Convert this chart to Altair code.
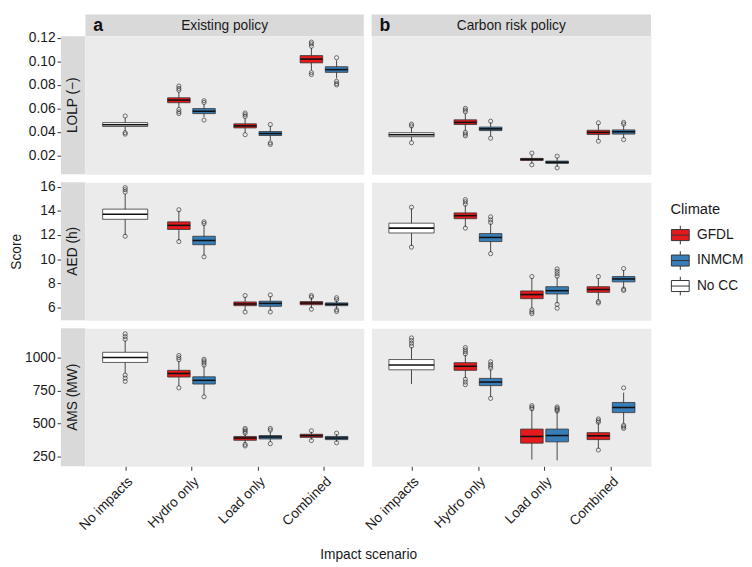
import json
import altair as alt
import pandas as pd

FONT = "Liberation Sans"

scenarios = ["No impacts", "Hydro only", "Load only", "Combined"]
climates = ["GFDL", "INMCM", "No CC"]
climate_colors = ["#e41a1c", "#377eb8", "#ffffff"]
policies = ["Existing policy", "Carbon risk policy"]
policy_tags = ["a", "b"]
metrics = ["LOLP (\u2212)", "AED (h)", "AMS (MW)"]

# box order inside each policy panel
box_scenario = ["No impacts", "Hydro only", "Hydro only", "Load only", "Load only", "Combined", "Combined"]
box_climate = ["No CC", "GFDL", "INMCM", "GFDL", "INMCM", "GFDL", "INMCM"]

# [whisker low, q1, median, q3, whisker high]
lolp_existing = [
    [0.0405, 0.0445, 0.0460, 0.0478, 0.0520],
    [0.0605, 0.0648, 0.0670, 0.0690, 0.0740],
    [0.0525, 0.0555, 0.0575, 0.0598, 0.0635],
    [0.0390, 0.0433, 0.0450, 0.0468, 0.0515],
    [0.0325, 0.0368, 0.0385, 0.0402, 0.0450],
    [0.0925, 0.0988, 0.1020, 0.1050, 0.1115],
    [0.0855, 0.0907, 0.0930, 0.0955, 0.1010],
]
lolp_existing_out = [
    [0.0535, 0.0392, 0.0380],
    [0.0755, 0.0770, 0.0790, 0.0590, 0.0570, 0.0555],
    [0.0650, 0.0665, 0.0500],
    [0.0530, 0.0545, 0.0560, 0.0375],
    [0.0462, 0.0305, 0.0292],
    [0.1130, 0.1150, 0.1165, 0.0905, 0.0888],
    [0.1032, 0.0830, 0.0812, 0.0800],
]
lolp_carbon = [
    [0.0320, 0.0358, 0.0375, 0.0392, 0.0440],
    [0.0410, 0.0462, 0.0480, 0.0502, 0.0555],
    [0.0360, 0.0410, 0.0425, 0.0440, 0.0480],
    [0.0128, 0.0155, 0.0165, 0.0173, 0.0205],
    [0.0100, 0.0130, 0.0140, 0.0150, 0.0180],
    [0.0330, 0.0377, 0.0395, 0.0413, 0.0465],
    [0.0345, 0.0380, 0.0400, 0.0416, 0.0455],
]
lolp_carbon_out = [
    [0.0450, 0.0465, 0.0306],
    [0.0570, 0.0585, 0.0600, 0.0395, 0.0380, 0.0365],
    [0.0490, 0.0345],
    [0.0218, 0.0118],
    [0.0192, 0.0092],
    [0.0476, 0.0320],
    [0.0465, 0.0480, 0.0333],
]
aed_existing = [
    [12.00, 13.30, 13.72, 14.14, 15.40],
    [11.55, 12.46, 12.80, 13.09, 14.00],
    [10.30, 11.20, 11.55, 11.90, 12.85],
    [5.75, 6.16, 6.30, 6.47, 6.90],
    [5.75, 6.11, 6.35, 6.53, 6.95],
    [5.95, 6.24, 6.38, 6.50, 6.80],
    [5.90, 6.16, 6.28, 6.39, 6.60],
]
aed_existing_out = [
    [15.55, 15.75, 15.92, 11.90],
    [14.09, 11.46],
    [12.95, 13.09, 10.20],
    [7.00, 5.64],
    [7.05, 5.64],
    [6.87, 7.00, 5.87],
    [6.66, 6.82, 5.82, 5.68],
]
aed_carbon = [
    [11.10, 12.17, 12.57, 12.98, 14.20],
    [12.65, 13.35, 13.60, 13.83, 14.45],
    [10.60, 11.46, 11.80, 12.12, 12.95],
    [5.95, 6.74, 7.08, 7.38, 8.45],
    [6.35, 7.13, 7.40, 7.73, 8.50],
    [6.60, 7.26, 7.50, 7.73, 8.45],
    [7.60, 8.13, 8.37, 8.57, 9.10],
]
aed_carbon_out = [
    [14.30, 11.00],
    [14.55, 14.75, 14.93, 12.57],
    [13.04, 13.25, 13.50, 10.46],
    [8.57, 5.82, 5.65, 5.50],
    [8.60, 8.80, 9.00, 9.20, 6.27, 5.95],
    [8.57, 6.50, 6.38],
    [9.23, 7.53, 7.42],
]
ams_existing = [
    [880, 964, 1002, 1041, 1130],
    [785, 853, 880, 904, 975],
    [715, 800, 828, 855, 935],
    [350, 373, 390, 402, 420],
    [360, 383, 398, 409, 440],
    [378, 395, 408, 419, 438],
    [362, 378, 390, 402, 420],
]
ams_existing_out = [
    [1140, 1160, 1181, 868, 845, 820],
    [985, 1000, 1017, 771],
    [944, 960, 975, 988, 703],
    [427, 440, 452, 463, 342, 330],
    [450, 463, 347],
    [445, 371],
    [427, 354],
]
ams_carbon = [
    [800, 908, 944, 986, 1080],
    [845, 904, 935, 962, 1020],
    [700, 788, 815, 843, 910],
    [226, 351, 402, 458, 605],
    [221, 361, 409, 458, 590],
    [310, 378, 407, 431, 505],
    [500, 583, 622, 660, 735],
]
ams_carbon_out = [
    [1089, 1110, 1130, 1150],
    [1029, 1045, 1060, 1077, 836, 815, 795],
    [920, 935, 950, 969, 691],
    [612, 624, 636],
    [595, 605, 615, 626],
    [510, 522, 535, 299],
    [771, 486, 475, 463],
]

y_domains = [[0.0037, 0.1216], [4.95, 16.37], [175, 1224]]
y_ticks = [[0.02, 0.04, 0.06, 0.08, 0.10, 0.12], [6, 8, 10, 12, 14, 16], [250, 500, 750, 1000]]
y_formats = [".2f", "d", "d"]

stats_by_metric = [
    [(lolp_existing, lolp_existing_out), (lolp_carbon, lolp_carbon_out)],
    [(aed_existing, aed_existing_out), (aed_carbon, aed_carbon_out)],
    [(ams_existing, ams_existing_out), (ams_carbon, ams_carbon_out)],
]

# dodge layout
dodge = {"GFDL": -0.19, "INMCM": 0.19, "No CC": 0.0}
half_w = {"GFDL": 0.17, "INMCM": 0.17, "No CC": 0.34}


def frames(stats, outs):
    brows, orows = [], []
    for i, (s, o) in enumerate(zip(stats, outs)):
        sc, cl = box_scenario[i], box_climate[i]
        xc = scenarios.index(sc) + 1 + dodge[cl]
        brows.append(dict(scenario=sc, climate=cl, xc=xc, xl=xc - half_w[cl], xr=xc + half_w[cl],
                          wlo=s[0], q1=s[1], med=s[2], q3=s[3], whi=s[4]))
        for v in o:
            orows.append(dict(scenario=sc, climate=cl, xc=xc, val=v))
    return pd.DataFrame(brows), pd.DataFrame(orows)


W = [284, 285]
H = 141
STRIP_W = 25
TOP_H = 22
GAP = 8
PANEL_FILL = "#ebebeb"
STRIP_FILL = "#d9d9d9"
TEXT = "#1a1a1a"

label_expr = json.dumps(scenarios) + "[datum.value - 1]"
box_path = "M-1,-0.62H1V0.62H-1Z M-1,0H1 M0,-0.62V-1.05 M0,0.62V1.05"

legend = alt.Legend(title="Climate", orient="none", legendX=597, legendY=170,
                    symbolType=box_path, symbolSize=330,
                    symbolStrokeColor="#333333", symbolStrokeWidth=1,
                    titleFont=FONT, titleFontSize=15, titleFontWeight="normal",
                    titleColor=TEXT, titlePadding=8,
                    labelFont=FONT, labelFontSize=14, labelColor=TEXT,
                    labelOffset=7, rowPadding=2)


def panel(mi, pi):
    stats, outs = stats_by_metric[mi][pi]
    bdf, odf = frames(stats, outs)
    xs = alt.Scale(domain=[0.4, 4.6], nice=False, zero=False)
    ys = alt.Scale(domain=y_domains[mi], nice=False, zero=False)
    xtitle = None
    if mi == 2:
        xkw = {}
        if pi == 0:
            xtitle = "Impact scenario"
            xkw = dict(titleX=(W[0] + GAP + W[1]) / 2, titleY=90, titleAnchor="middle",
                       titleAlign="center", titleBaseline="middle", titleFont=FONT,
                       titleFontSize=14, titleFontWeight="normal", titleColor=TEXT)
        xaxis = alt.Axis(values=[1, 2, 3, 4], labelExpr=label_expr, labelAngle=315,
                         labelAlign="right", labelBaseline="top", labelPadding=4,
                         tickSize=4, tickColor="#333333", domain=False, grid=False,
                         labelFont=FONT, labelFontSize=14, labelColor=TEXT,
                         title=xtitle, **xkw)
    else:
        xaxis = None
    if pi == 0:
        yaxis = alt.Axis(values=y_ticks[mi], format=y_formats[mi], offset=STRIP_W,
                         tickSize=4, tickColor="#333333", domain=False, grid=False,
                         labelFont=FONT, labelFontSize=14, labelColor=TEXT, labelPadding=2,
                         title="Score" if mi == 1 else None, titleFont=FONT, titleFontSize=14,
                         titleFontWeight="normal", titleColor=TEXT, titlePadding=17)
        ytitle = "Score" if mi == 1 else None
    else:
        yaxis = None
        ytitle = None

    base = alt.Chart(bdf)
    whisk = base.mark_rule(color="#333333", strokeWidth=0.9).encode(
        x=alt.X("xc:Q", scale=xs, axis=xaxis, title=xtitle),
        y=alt.Y("wlo:Q", scale=ys, axis=yaxis, title=ytitle),
        y2="whi:Q",
    )
    box = base.mark_bar(stroke="#333333", strokeWidth=0.8).encode(
        x=alt.X("xl:Q", scale=xs, axis=xaxis, title=xtitle),
        x2="xr:Q",
        y=alt.Y("q1:Q", scale=ys, axis=yaxis, title=ytitle),
        y2="q3:Q",
        fill=alt.Fill("climate:N", scale=alt.Scale(domain=climates, range=climate_colors),
                      legend=legend),
    )
    med = base.mark_rule(color="#111111", strokeWidth=1.6).encode(
        x=alt.X("xl:Q", scale=xs, axis=xaxis, title=xtitle),
        x2="xr:Q",
        y=alt.Y("med:Q", scale=ys, axis=yaxis, title=ytitle),
    )
    pts = alt.Chart(odf).mark_point(shape="circle", filled=False, size=18,
                                    color="#222222", strokeWidth=0.9).encode(
        x=alt.X("xc:Q", scale=xs, axis=xaxis, title=xtitle),
        y=alt.Y("val:Q", scale=ys, axis=yaxis, title=ytitle),
    )
    layers = [whisk, box, med, pts]

    # facet strips (decoration drawn just outside the panel)
    if pi == 0:
        sdf = pd.DataFrame({"label": [metrics[mi]]})
        layers.append(alt.Chart(sdf).mark_rect(fill=STRIP_FILL).encode(
            x=alt.value(-STRIP_W), x2=alt.value(0), y=alt.value(0), y2=alt.value(H)))
        layers.append(alt.Chart(sdf).mark_text(angle=270, font=FONT, fontSize=14, color=TEXT,
                                               baseline="middle").encode(
            text="label:N", x=alt.value(-STRIP_W / 2), y=alt.value(H / 2)))
    if mi == 0:
        tdf = pd.DataFrame({"title": [policies[pi]], "tag": [policy_tags[pi]]})
        layers.append(alt.Chart(tdf).mark_rect(fill=STRIP_FILL).encode(
            x=alt.value(0), x2=alt.value(W[pi]), y=alt.value(-TOP_H), y2=alt.value(0)))
        layers.append(alt.Chart(tdf).mark_text(font=FONT, fontSize=14, color=TEXT,
                                               baseline="middle").encode(
            text="title:N", x=alt.value(W[pi] / 2), y=alt.value(-TOP_H / 2 + 1)))
        layers.append(alt.Chart(tdf).mark_text(font=FONT, fontSize=18, fontWeight="bold",
                                               color="#111111", align="left",
                                               baseline="middle").encode(
            text="tag:N", x=alt.value(8), y=alt.value(-TOP_H / 2 + 1)))

    return alt.layer(*layers).properties(
        width=W[pi], height=H,
        view=alt.ViewBackground(fill=PANEL_FILL, stroke="transparent"),
    )


panels = [panel(mi, pi) for mi in range(3) for pi in range(2)]

chart = alt.concat(*panels, columns=2, spacing=GAP, bounds="flush", align="each").properties(
    padding={"left": 0, "top": 0, "right": 0, "bottom": 0}
).configure_view(stroke="transparent")

chart.save("out.html", embed_options={"renderer": "svg", "actions": False})
